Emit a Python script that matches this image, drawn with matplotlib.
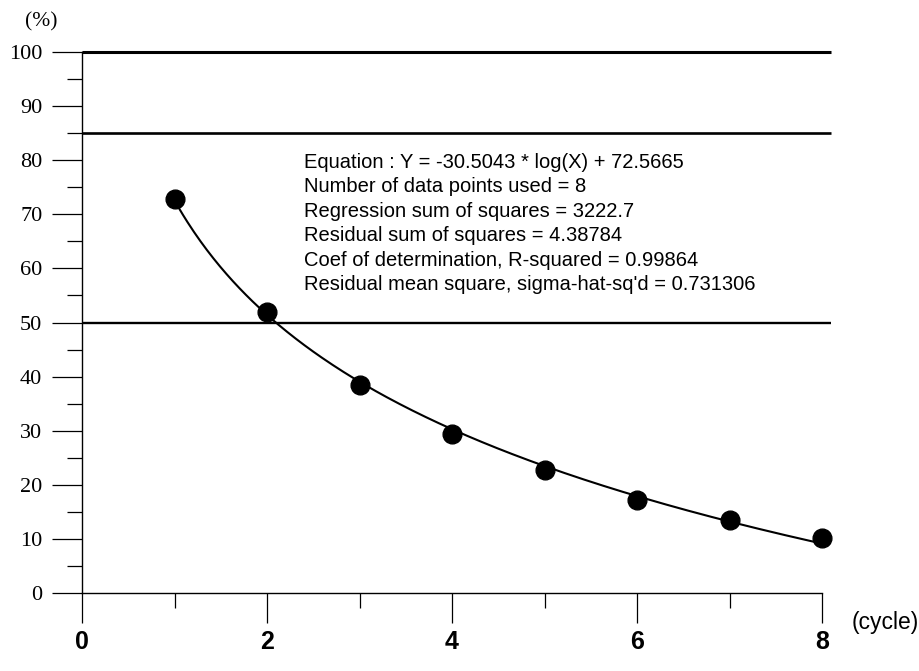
import numpy as np
import matplotlib
matplotlib.use("Agg")
import matplotlib.pyplot as plt
from matplotlib.ticker import MultipleLocator

# data
cycles = [1, 2, 3, 4, 5, 6, 7, 8]
percent = [72.8, 51.9, 38.4, 29.4, 22.7, 17.2, 13.5, 10.2]
coef_a = -30.5043
coef_b = 72.5665
ref_levels = [100, 85, 50]
xticks = [0, 2, 4, 6, 8]
yticks = [0, 10, 20, 30, 40, 50, 60, 70, 80, 90, 100]
stats_lines = [
    "Equation : Y = -30.5043 * log(X) + 72.5665",
    "Number of data points used = 8",
    "Regression sum of squares = 3222.7",
    "Residual sum of squares = 4.38784",
    "Coef of determination, R-squared = 0.99864",
    "Residual mean square, sigma-hat-sq'd = 0.731306",
]

W, H = 919, 671
fig = plt.figure(figsize=(W / 100, H / 100), dpi=100)
ax = fig.add_axes([82 / W, (H - 593) / H, 740 / W, 541 / H])
ax.set_xlim(0, 8)
ax.set_ylim(0, 100)

for s in ["top", "right"]:
    ax.spines[s].set_visible(False)
ax.spines["left"].set_linewidth(1.0)
ax.spines["bottom"].set_linewidth(1.0)

ax.set_xticks(xticks)
ax.xaxis.set_minor_locator(MultipleLocator(1))
ax.set_yticks(yticks)
ax.yaxis.set_minor_locator(MultipleLocator(5))
ax.tick_params(axis="y", which="major", direction="out", length=21.6, width=0.9, pad=7)
ax.tick_params(axis="y", which="minor", direction="out", length=10.8, width=0.9)
ax.tick_params(axis="x", which="major", direction="out", length=21.6, width=0.9, pad=5)
ax.tick_params(axis="x", which="minor", direction="out", length=10.8, width=0.9)

for lbl in ax.get_yticklabels():
    lbl.set_fontfamily("Liberation Serif")
    lbl.set_fontsize(16)
for lbl in ax.get_xticklabels():
    lbl.set_fontfamily("Liberation Sans")
    lbl.set_fontsize(18)
    lbl.set_fontweight("bold")

# reference lines
lw_map = {100: 2.2, 85: 1.9, 50: 1.7}
for lev in ref_levels:
    ax.plot([0, 8.1], [lev, lev], color="black", lw=lw_map[lev], clip_on=False,
            solid_capstyle="butt")

# fit curve
xs = np.linspace(cycles[0], cycles[-1], 300)
ys = coef_a * np.log(xs) + coef_b
ax.plot(xs, ys, color="black", lw=1.5, clip_on=False)

# data points
ax.plot(cycles, percent, "o", color="black", markersize=13.5, clip_on=False)

# stats text
for i, line in enumerate(stats_lines):
    fig.text(304 / W, 1 - (162 + 24.5 * i) / H, line, fontsize=14.5,
             family="Liberation Sans", va="center", ha="left")

fig.text(25 / W, 1 - 22 / H, "(%)", fontsize=15.5, family="Liberation Serif",
         va="center", ha="left")
fig.text(852 / W, 1 - 623 / H, "(cycle)", fontsize=16.5, family="Liberation Sans",
         va="center", ha="left")

fig.savefig("out.png", dpi=100, facecolor="white")
